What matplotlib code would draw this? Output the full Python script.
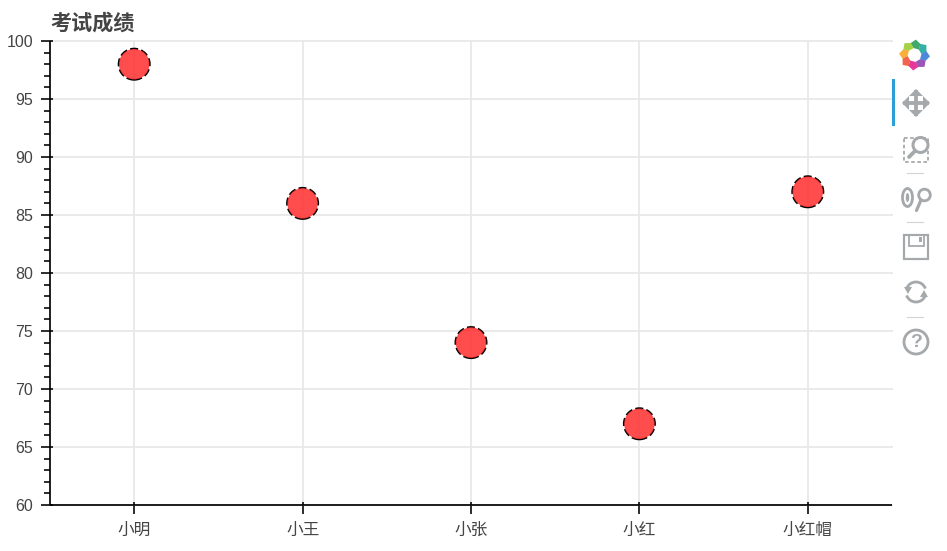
import numpy as np
import matplotlib

matplotlib.use("Agg")
import matplotlib.pyplot as plt
from matplotlib.patches import Arc, Circle, Ellipse, Polygon, Rectangle

plt.rcParams["font.family"] = ["Liberation Sans", "Noto Sans CJK SC", "DejaVu Sans"]

names = ["小明", "小王", "小张", "小红", "小红帽"]
scores = [98, 86, 74, 67, 87]
y_ticks = [60, 65, 70, 75, 80, 85, 90, 95, 100]
title = "考试成绩"
W, H = 947, 551
TXT = "#444444"
ICON = "#a6a9ab"
logo_colors = ["#2ca05a", "#1fa8a0", "#3a7bd5", "#8e44ad", "#e6208f", "#f0533a", "#f7a823", "#9acd32"]


def px(v):
    # pixels to points
    return v * 72 / 100


def draw_toolbar(tb):
    tb.add_patch(Rectangle((892, 79), 2.5, 47, fc="#2b9fd6", ec="none"))

    # logo: eight skewed petals around a white hole
    for i, c in enumerate(logo_colors):
        a = -90 + 45 * i
        pts = []
        for r, d in ((7, -8), (7, 38), (12.5, 28), (15.5, 5), (12.5, -18)):
            t = np.radians(a + d)
            pts.append((914.5 + r * np.cos(t), 55 + r * np.sin(t)))
        tb.add_patch(Polygon(pts, fc=c, ec="none", alpha=0.9))

    # pan
    tb.plot([903, 929], [103, 103], color=ICON, lw=px(3.8), solid_capstyle="butt")
    tb.plot([916, 916], [90, 116], color=ICON, lw=px(3.8), solid_capstyle="butt")
    for p in ([(902, 103), (909, 96), (909, 110)], [(930, 103), (923, 96), (923, 110)],
              [(916, 89), (909, 96), (923, 96)], [(916, 117), (909, 110), (923, 110)]):
        tb.add_patch(Polygon(p, fc=ICON, ec="none"))

    # box zoom
    tb.add_patch(Rectangle((904, 138), 24, 24, fc="none", ec=ICON, lw=px(1.8), ls=(0, (2, 1.4))))
    tb.add_patch(Circle((920.5, 145), 7.5, fc="white", ec=ICON, lw=px(3)))
    tb.plot([915, 909], [151, 157], color=ICON, lw=px(3.8), solid_capstyle="round")

    # wheel zoom
    tb.add_patch(Ellipse((907.5, 197.5), 10, 18, fc="none", ec=ICON, lw=px(2.8)))
    tb.add_patch(Ellipse((907.5, 197.5), 3.5, 9, fc=ICON, ec="none"))
    tb.add_patch(Circle((924.5, 195), 5.8, fc="none", ec=ICON, lw=px(2.8)))
    tb.plot([921, 916.5], [200, 210.5], color=ICON, lw=px(3.2), solid_capstyle="round")

    # save
    tb.add_patch(Rectangle((904, 235), 24, 24, fc="none", ec=ICON, lw=px(2.2)))
    tb.add_patch(Rectangle((908.5, 235), 15.5, 10.5, fc="none", ec=ICON, lw=px(1.8)))
    tb.add_patch(Rectangle((918.5, 237), 3, 4.5, fc=ICON, ec="none"))

    # reset
    tb.add_patch(Arc((916, 292), 20, 20, theta1=200, theta2=340, ec=ICON, lw=px(2.8)))
    tb.add_patch(Arc((916, 292), 20, 20, theta1=20, theta2=160, ec=ICON, lw=px(2.8)))
    tb.add_patch(Polygon([(904, 287), (912, 287), (908, 294)], fc=ICON, ec="none"))
    tb.add_patch(Polygon([(928, 297), (920, 297), (924, 290)], fc=ICON, ec="none"))

    # help
    tb.add_patch(Circle((916, 342), 12, fc="none", ec=ICON, lw=px(2.8)))
    tb.text(916, 342.5, "?", color=ICON, fontsize=14, fontweight="bold", ha="center", va="center")

    for y in (173, 222, 317):
        tb.plot([907, 923], [y, y], color="#d4d4d4", lw=px(1.2))


fig = plt.figure(figsize=(W / 100, H / 100), dpi=100)
ax = fig.add_axes([50 / W, 1 - 505 / H, 842 / W, 464 / H])

x = np.arange(len(names)) + 0.5
# dashes go under the fill, only their outer half shows
ax.scatter(x, scores, s=px(31) ** 2, facecolor="none", edgecolor="black",
           linewidth=px(2), linestyle=(0, (4, 1.6)), zorder=3)
ax.scatter(x, scores, s=px(30.5) ** 2, facecolor="#ff3333", alpha=0.88, edgecolor="none", zorder=4)

ax.set_xlim(0, len(names))
ax.set_ylim(60, 100)
ax.set_xticks(x)
ax.set_xticklabels(names)
ax.set_yticks(y_ticks)
ax.set_yticks(np.arange(60, 101), minor=True)
ax.grid(True, color="#e8e8e8", lw=px(1.8), zorder=0)
ax.set_axisbelow(True)
for g in ax.get_ygridlines() + ax.get_xgridlines():
    g.set_clip_on(False)

for s in ("top", "right"):
    ax.spines[s].set_visible(False)
for s in ("left", "bottom"):
    ax.spines[s].set_linewidth(px(1.7))
    ax.spines[s].set_capstyle("butt")

ax.tick_params(axis="y", which="major", direction="out", length=px(9), width=px(1.6),
               labelsize=11.5, labelcolor=TXT, pad=px(8))
ax.tick_params(axis="y", which="minor", direction="out", length=px(6), width=px(1.6))
ax.tick_params(axis="x", which="major", direction="out", length=px(9), width=px(1.6),
               labelsize=12, labelcolor=TXT, pad=px(9))

# short inward part of the major ticks
ax.hlines(y_ticks, 0, 3 / 842, transform=ax.get_yaxis_transform(), color="black", lw=px(1.6), zorder=5, clip_on=False)
ax.vlines(x, 0, 3 / 464, transform=ax.get_xaxis_transform(), color="black", lw=px(1.6), zorder=5, clip_on=False)

fig.text(50.5 / W, 1 - 23 / H, title, fontsize=15.2, fontweight="bold", color=TXT, va="center", ha="left")

tb = fig.add_axes([0, 0, 1, 1], facecolor="none", zorder=5)
tb.set_xlim(0, W)
tb.set_ylim(H, 0)
tb.axis("off")
draw_toolbar(tb)

fig.savefig("out.png", dpi=100)
